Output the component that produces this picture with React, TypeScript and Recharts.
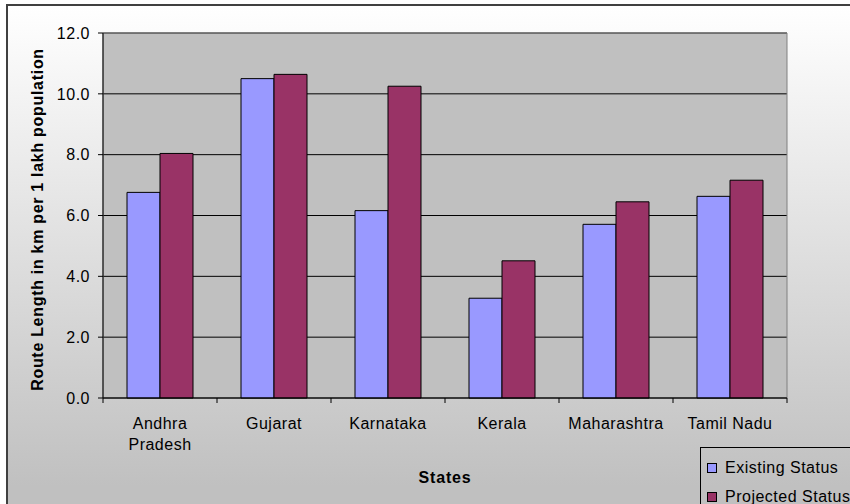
import React from 'react';
import {
  BarChart,
  Bar,
  XAxis,
  YAxis,
  CartesianGrid,
  Legend,
  ReferenceArea,
  Label,
  Text,
} from 'recharts';

const states = ['Andhra Pradesh', 'Gujarat', 'Karnataka', 'Kerala', 'Maharashtra', 'Tamil Nadu'];
const existingStatus = [6.76, 10.5, 6.16, 3.28, 5.71, 6.63];
const projectedStatus = [8.04, 10.64, 10.25, 4.51, 6.45, 7.16];
const yTicks = [0, 2, 4, 6, 8, 10, 12];

const data = states.map((s, i) => ({
  state: s,
  existing: existingStatus[i],
  projected: projectedStatus[i],
}));

const FONT = '"Liberation Sans", Arial, Helvetica, sans-serif';

function StateTick(props: any) {
  const { x, y, payload } = props;
  const half = payload && typeof payload.offset === 'number' && payload.offset > 0 ? payload.offset : 57;
  const axisY = y - 20;
  const isLast = payload.value === states[states.length - 1];
  return (
    <g>
      <line x1={x - half} x2={x - half} y1={axisY} y2={axisY + 5} stroke="#000" />
      {isLast && <line x1={x + half} x2={x + half} y1={axisY} y2={axisY + 5} stroke="#000" />}
      <Text
        x={x}
        y={y}
        width={100}
        textAnchor="middle"
        verticalAnchor="start"
        lineHeight={21}
        style={{ fontFamily: FONT, fontSize: 16, letterSpacing: 0.5 }}
        fill="#000"
      >
        {payload.value}
      </Text>
    </g>
  );
}

function LegendBox(props: any) {
  const payload = props.payload || [];
  return (
    <div
      style={{
        border: '1px solid #000',
        width: 170,
        height: 70,
        boxSizing: 'border-box',
        fontFamily: FONT,
        fontSize: 16,
        letterSpacing: 0.5,
        color: '#000',
        paddingLeft: 6,
        paddingTop: 5,
      }}
    >
      {payload.map((p: any) => (
        <div key={p.value} style={{ display: 'flex', alignItems: 'center', height: 29 }}>
          <span
            style={{
              display: 'inline-block',
              width: 10,
              height: 10,
              background: p.color,
              border: '1px solid #000',
              boxSizing: 'border-box',
              marginRight: 8,
            }}
          />
          <span>{p.value}</span>
        </div>
      ))}
    </div>
  );
}

export default function App() {
  return (
    <div
      style={{
        position: 'fixed',
        left: 0,
        top: 0,
        width: 850,
        height: 504,
        overflow: 'hidden',
        background: '#fff',
      }}
    >
      <div
        style={{
          position: 'absolute',
          left: 6,
          top: 4,
          width: 900,
          height: 600,
          border: '2px solid #404040',
          background: 'linear-gradient(to bottom, #ffffff 0px, #c0c0c0 480px, #c0c0c0 600px)',
        }}
      />
      <div style={{ position: 'absolute', left: 0, top: 0 }}>
        <BarChart
          width={850}
          height={504}
          data={data}
          margin={{ top: 33, right: 63, bottom: 16, left: 6 }}
          barCategoryGap={24}
          barGap={0}
        >
          <CartesianGrid vertical={false} stroke="#000" fill="#C0C0C0" fillOpacity={1} />
          <ReferenceArea y1={0} y2={12} fill="none" stroke="#808080" strokeWidth={1} />
          <XAxis
            dataKey="state"
            height={90}
            interval={0}
            tickLine={false}
            tickSize={5}
            tickMargin={15}
            axisLine={{ stroke: '#000' }}
            tick={<StateTick />}
          >
            <Label
              value="States"
              position="insideBottom"
              offset={5}
              style={{ fontFamily: FONT, fontSize: 16, fontWeight: 'bold', letterSpacing: 0.8, fill: '#000' }}
            />
          </XAxis>
          <YAxis
            width={97}
            domain={[0, 12]}
            ticks={yTicks}
            interval={0}
            tickFormatter={(v: number) => v.toFixed(1)}
            tickSize={5}
            tickMargin={8}
            axisLine={{ stroke: '#000' }}
            tickLine={{ stroke: '#000' }}
            tick={{ fontFamily: FONT, fontSize: 16, fill: '#000', letterSpacing: 0.5 } as any}
          >
            <Label
              value="Route Length in km per 1 lakh population"
              angle={-90}
              position="center"
              dx={-17.5}
              dy={4}
              style={{ fontFamily: FONT, fontSize: 16, fontWeight: 'bold', letterSpacing: 0.7, fill: '#000' }}
            />
          </YAxis>
          <Legend
            layout="vertical"
            align="center"
            verticalAlign="middle"
            content={<LegendBox />}
            wrapperStyle={{ left: 700, top: 447, width: 170, height: 70 }}
          />
          <Bar
            dataKey="existing"
            name="Existing Status"
            fill="#9999FF"
            stroke="#000"
            strokeWidth={1}
            isAnimationActive={false}
          />
          <Bar
            dataKey="projected"
            name="Projected Status"
            fill="#993366"
            stroke="#000"
            strokeWidth={1}
            isAnimationActive={false}
          />
        </BarChart>
      </div>
    </div>
  );
}
